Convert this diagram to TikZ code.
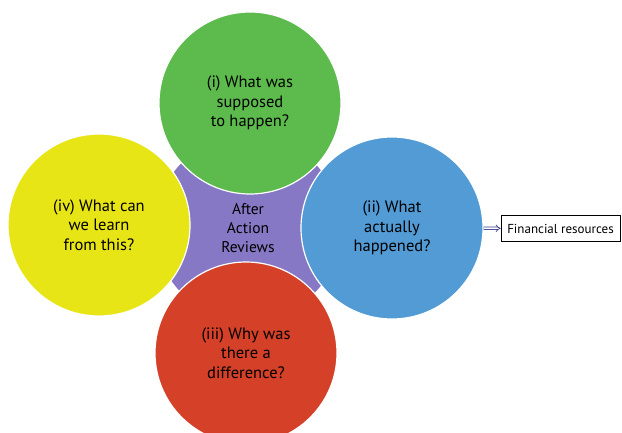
\documentclass[tikz,border=0pt]{standalone}
\usepackage{fontspec}
\setmainfont{PT Sans}
\usetikzlibrary{arrows.meta}
\definecolor{aargreen}{RGB}{92,187,76}
\definecolor{aaryellow}{RGB}{232,229,22}
\definecolor{aarblue}{RGB}{82,155,213}
\definecolor{aarred}{RGB}{213,64,40}
\definecolor{aarpurple}{RGB}{134,120,196}
\definecolor{aarnavy}{RGB}{50,60,140}
\tikzset{
    petal/.style = {circle, draw=white, line width=1.2pt, minimum size=182pt, inner sep=0, align=center, text=black, font=\fontsize{16.5}{19.5}\selectfont},
    hub/.style = {circle, minimum size=186pt, inner sep=0, align=center, fill=aarpurple, text=black, font=\fontsize{15.5}{19}\selectfont},
    resbox/.style = {rectangle, draw=black, line width=0.6pt, minimum width=119pt, minimum height=26pt, inner sep=2pt, font=\fontsize{13}{15}\selectfont},
    edgeres/.style = {-{Implies}, double, double distance=1.8pt, line width=0.7pt, draw=aarnavy}, % to resources
}

\begin{document}
\begin{tikzpicture}[x=1pt,y=-1pt]
\useasboundingbox (0,0) rectangle (622,432);
\clip (0,0) rectangle (622,432);
\node[hub] at (248, 228) (hub) {After\\Action\\Reviews};
\node[petal,fill=aaryellow] at (99, 225) (learn) {(iv) What can\\we learn\\from this?};
\node[petal,fill=aargreen] at (250, 103) (supposed) {(i) What was\\supposed\\to happen?};
\node[petal,fill=aarblue] at (392, 228) (actual) {(ii) What\\actually\\happened?};
\node[petal,fill=aarred] at (246, 353) (diff) {(iii) Why was\\there a\\difference?};
\node[resbox] at (560.5, 228.5) (res) {Financial resources};
%
\draw[edgeres] (actual) -- (res);

\end{tikzpicture}
\end{document}
